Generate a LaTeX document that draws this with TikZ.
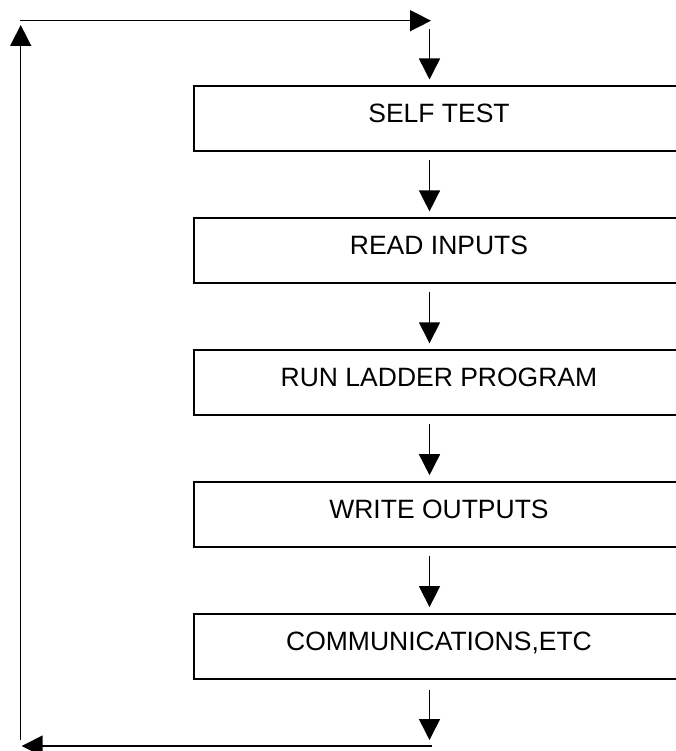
\documentclass[tikz,border=0pt]{standalone}
\usepackage{fontspec}
\setmainfont{Liberation Sans}
\usetikzlibrary{positioning,arrows.meta}

\begin{document}
\begin{tikzpicture}[x=1pt, y=-1pt, node distance=64.9pt]

% Alakzatok
\tikzstyle{stage} = [rectangle, minimum width=490pt, minimum height=65pt, text height=19pt, text depth=11.4pt, text centered, draw=black, line width=2pt, font=\fontsize{26.5}{30}\selectfont]
\tikzstyle{arrow} = [line width=1.5pt, -{Triangle[length=21pt,width=21pt]}]
\tikzstyle{down} = [arrow, shorten <=8pt, shorten >=6pt]

\clip (0,0) rectangle (676,751);

% Dobozok
\node (selftest) [stage] at (439,119) {SELF TEST};
\node (inputs) [stage, below=of selftest] {READ INPUTS};
\node (ladder) [stage, below=of inputs] {RUN LADDER PROGRAM};
\node (outputs) [stage, below=of ladder] {WRITE OUTPUTS};
\node (comms) [stage, below=of outputs] {COMMUNICATIONS,ETC};

% Pontok
\coordinate (axis) at (429.5,0);
\coordinate (entry) at (429.5,29);
\coordinate (exit) at (429.5,740);
\coordinate (topleft) at (20,20.7);
\coordinate (topright) at (431,20.7);
\coordinate (botright) at (431.7,746);
\coordinate (botleft) at (21.7,746);
\coordinate (loopbot) at (20.7,740);
\coordinate (looptop) at (20.7,25);

% Nyilak
\draw [arrow, shorten >=6pt] (entry) -- (axis |- selftest.north);
\draw [down] (axis |- selftest.south) -- (axis |- inputs.north);
\draw [down] (axis |- inputs.south) -- (axis |- ladder.north);
\draw [down] (axis |- ladder.south) -- (axis |- outputs.north);
\draw [down] (axis |- outputs.south) -- (axis |- comms.north);
\draw [arrow, shorten <=10pt] (axis |- comms.south) -- (exit);
\draw [arrow] (botright) -- (botleft);
\draw [arrow] (loopbot) -- (looptop);
\draw [arrow] (topleft) -- (topright);
\end{tikzpicture}
\end{document}
